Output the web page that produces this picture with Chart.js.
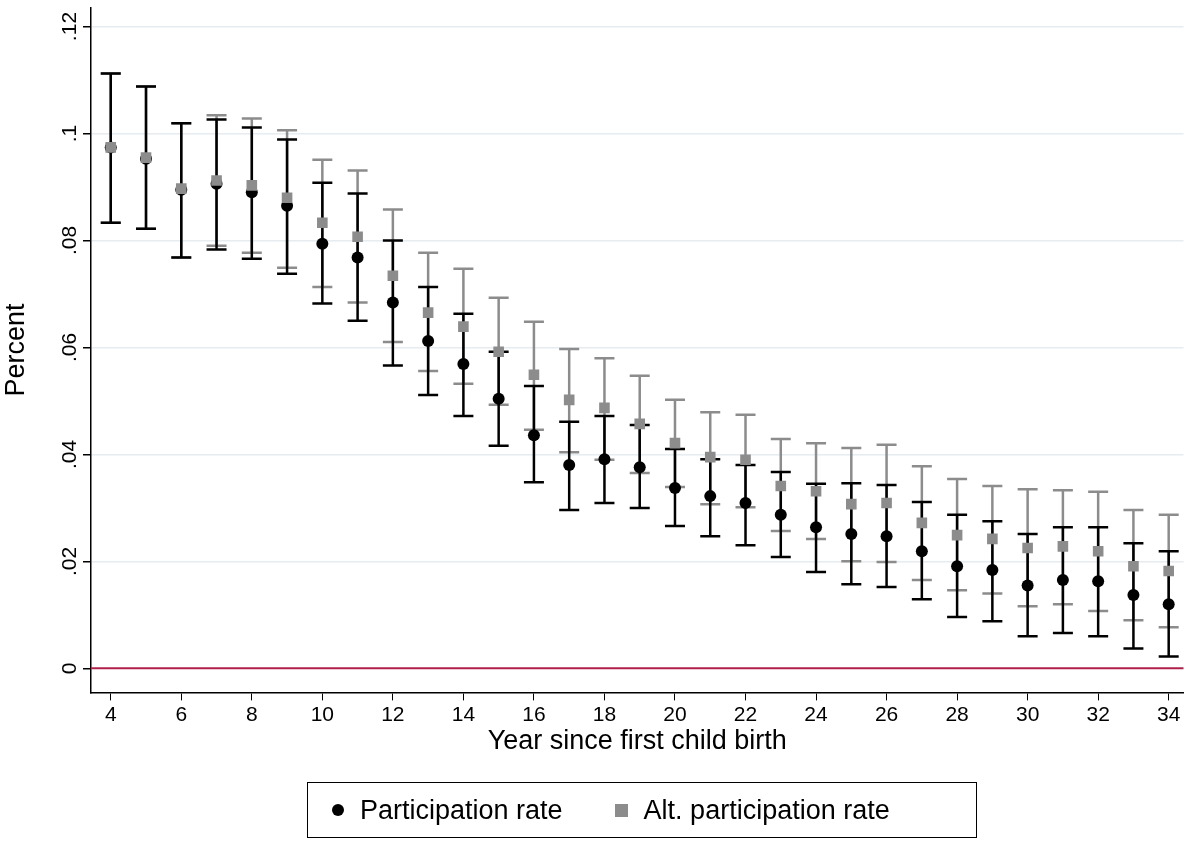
<!DOCTYPE html>
<html>
<head>
<meta charset="utf-8">
<script src="https://cdn.jsdelivr.net/npm/chart.js@4.4.0/dist/chart.umd.min.js"></script>
<style>
  body { margin: 0; background: #fff; font-family: "Liberation Sans", Arial, sans-serif; }
  #wrap { position: absolute; left: 0; top: 0; width: 1191px; height: 842px; }
  #legend { position: absolute; left: 307px; top: 782px; width: 670px; height: 56px; border: 1px solid #000;
    box-sizing: border-box; display: flex; align-items: center; font-size: 27px; }
  .item { display: flex; align-items: center; }
  .dot { width: 12px; height: 12px; border-radius: 50%; background: #000; margin: 0 16px 0 24px; }
  .sq { width: 13px; height: 13px; background: #8c8c8c; margin: 0 16px 0 52px; }
</style>
</head>
<body>
<div id="wrap"><canvas id="myChart" width="1191" height="842"></canvas></div>
<div id="legend">
  <div class="item"><div class="dot"></div>Participation rate</div>
  <div class="item"><div class="sq"></div>Alt. participation rate</div>
</div>
<script>
const years = [4,5,6,7,8,9,10,11,12,13,14,15,16,17,18,19,20,21,22,23,24,25,26,27,28,29,30,31,32,33,34];
const rate = [.0974,.0953,.0895,.0906,.089,.0865,.0794,.0768,.0684,.0612,.0569,.0504,.0436,.038,.0391,.0376,.0337,.0322,.0309,.0287,.0264,.0251,.0247,.0219,.0191,.0184,.0155,.0165,.0163,.0137,.012];
const rateHi = [.1112,.1088,.1019,.1026,.1011,.0989,.0908,.0888,.08,.0713,.0663,.0592,.0528,.0461,.0472,.0455,.041,.0391,.038,.0367,.0345,.0346,.0343,.0311,.0287,.0275,.0251,.0264,.0264,.0234,.0219];
const rateLo = [.0833,.0822,.0768,.0783,.0766,.0738,.0682,.065,.0566,.0511,.0472,.0416,.0348,.0296,.0309,.03,.0266,.0247,.023,.0208,.018,.0157,.0152,.0129,.0096,.0088,.006,.0066,.006,.0037,.0022];
const alt = [.0974,.0955,.0897,.0912,.0903,.088,.0833,.0807,.0734,.0665,.0639,.0592,.0549,.0502,.0487,.0457,.0421,.0395,.039,.0341,.0331,.0307,.0309,.0272,.0249,.0242,.0225,.0228,.0219,.0191,.0182];
const altHi = [.1112,.1088,.1019,.1034,.1028,.1006,.0951,.0931,.0858,.0777,.0747,.0693,.0648,.0597,.058,.0547,.0502,.0479,.0474,.0429,.0421,.0412,.0418,.0378,.0354,.0341,.0335,.0333,.033,.0296,.0287];
const altLo = [.0833,.0822,.0768,.079,.0777,.0749,.0713,.0684,.061,.0556,.0532,.0493,.0446,.0404,.039,.0365,.0339,.0307,.0301,.0257,.0242,.02,.0199,.0165,.0146,.014,.0116,.012,.0107,.009,.0077];
const yTicks = [0,.02,.04,.06,.08,.1,.12];
const yTickLabels = ["0",".02",".04",".06",".08",".1",".12"];

const GRAY = "#8c8c8c";

// error bars + rotated y labels + zero line
const extras = {
  id: "extras",
  beforeDatasetsDraw(chart) {
    const ctx = chart.ctx, xs = chart.scales.x, ys = chart.scales.y;
    const a = chart.chartArea;
    ctx.save();
    ctx.strokeStyle = "#b0204a";
    ctx.lineWidth = 2;
    ctx.beginPath();
    ctx.moveTo(a.left, ys.getPixelForValue(0));
    ctx.lineTo(a.right, ys.getPixelForValue(0));
    ctx.stroke();
    const bars = [[altLo, altHi, GRAY], [rateLo, rateHi, "#000"]];
    for (const [lo, hi, col] of bars) {
      ctx.strokeStyle = col;
      ctx.lineWidth = 2.5;
      years.forEach((yr, i) => {
        const x = xs.getPixelForValue(yr);
        const y1 = ys.getPixelForValue(lo[i]), y2 = ys.getPixelForValue(hi[i]);
        ctx.beginPath();
        ctx.moveTo(x, y1); ctx.lineTo(x, y2);
        ctx.moveTo(x - 10, y1); ctx.lineTo(x + 10, y1);
        ctx.moveTo(x - 10, y2); ctx.lineTo(x + 10, y2);
        ctx.stroke();
      });
    }
    ctx.restore();
  },
  afterDraw(chart) {
    const ctx = chart.ctx, ys = chart.scales.y;
    ctx.save();
    ctx.fillStyle = "#000";
    ctx.font = '21px "Liberation Sans", Arial, sans-serif';
    ctx.textAlign = "center";
    ctx.textBaseline = "middle";
    yTicks.forEach((v, i) => {
      ctx.save();
      ctx.translate(70, ys.getPixelForValue(v));
      ctx.rotate(-Math.PI / 2);
      ctx.fillText(yTickLabels[i], 0, 0);
      ctx.restore();
    });
    ctx.restore();
  }
};

const ctx = document.getElementById("myChart").getContext("2d");
new Chart(ctx, {
  type: "scatter",
  data: {
    datasets: [
      {
        label: "Alt. participation rate",
        data: years.map((x, i) => ({ x: x, y: alt[i] })),
        pointStyle: "rect",
        pointRadius: 7.5,
        backgroundColor: GRAY,
        borderColor: GRAY,
        borderWidth: 0,
      },
      {
        label: "Participation rate",
        data: years.map((x, i) => ({ x: x, y: rate[i] })),
        pointStyle: "circle",
        pointRadius: 6,
        backgroundColor: "#000",
        borderColor: "#000",
        borderWidth: 0,
      },
    ],
  },
  options: {
    responsive: false,
    animation: false,
    layout: { padding: { top: 0, right: 1, bottom: 84, left: 0 } },
    plugins: { legend: { display: false }, tooltip: { enabled: false } },
    scales: {
      x: {
        type: "linear",
        min: 3.44,
        max: 34.42,
        afterBuildTicks: (s) => { s.ticks = years.filter((y) => y % 2 === 0).map((v) => ({ value: v })); },
        ticks: { color: "#000", font: { size: 21, family: "Liberation Sans" }, padding: 2, maxRotation: 0 },
        grid: { drawOnChartArea: false, tickLength: 8, tickColor: "#000" },
        border: { color: "#000", width: 1.5 },
        title: { display: true, text: "Year since first child birth", color: "#000",
          font: { size: 27, family: "Liberation Sans" }, padding: { top: -4, bottom: 0 } },
      },
      y: {
        min: -0.0045,
        max: 0.12356,
        afterBuildTicks: (s) => { s.ticks = yTicks.map((v) => ({ value: v })); },
        afterFit: (s) => { s.width = 91; },
        ticks: { display: false },
        grid: {
          color: (c) => (c.tick && c.tick.value === 0 ? "rgba(0,0,0,0)" : "#e6ecef"),
          lineWidth: 1.5,
          tickLength: 8,
          tickColor: "#000",
        },
        border: { color: "#000", width: 1.5 },
        title: { display: true, text: "Percent", color: "#000",
          font: { size: 27, family: "Liberation Sans" }, padding: 0 },
      },
    },
  },
  plugins: [extras],
});
</script>
</body>
</html>
